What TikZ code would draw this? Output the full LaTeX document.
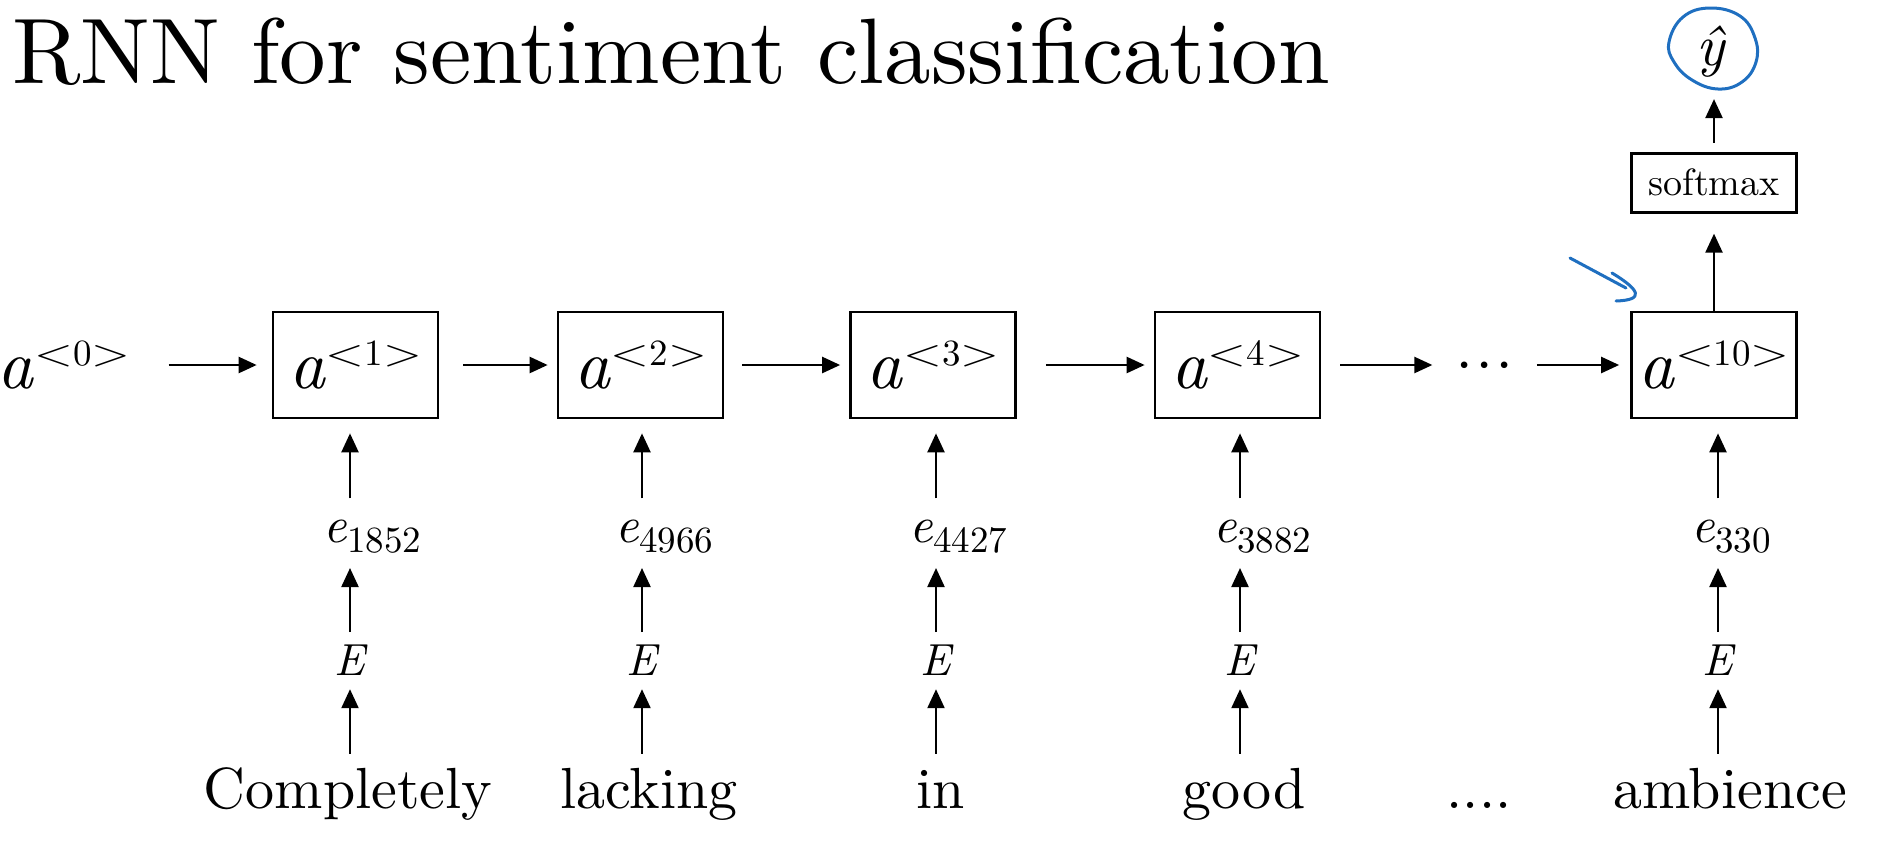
\documentclass[tikz,border=0pt]{standalone}
\usepackage{fontspec}
\setmainfont{lmroman10-regular.otf}[ItalicFont=lmroman10-italic.otf]
\usepackage{graphicx}
\usetikzlibrary{arrows.meta,positioning}
\definecolor{penblue}{HTML}{1F6FC0}
\newcommand{\wlt}{\scalebox{1.35}[1]{<}}
\newcommand{\wgt}{\scalebox{1.35}[1]{>}}
\newcommand{\act}[1]{\textit{a}\raisebox{23pt}{\fontsize{37}{40}\selectfont\wlt#1\wgt}}
\newcommand{\emb}[1]{\textit{e}\raisebox{-10pt}{\fontsize{37}{40}\selectfont#1}}
\newcommand{\dt}{\makebox[20pt]{\textperiodcentered}}

\begin{document}
\begin{tikzpicture}[x=1pt, y=-1pt,
    cell/.style={draw, line width=2.7pt, minimum width=165pt, minimum height=106pt, inner sep=0pt, font=\fontsize{70}{80}\selectfont},
    lbl/.style={inner sep=0pt},
    emblbl/.style={inner sep=0pt, anchor=base west, font=\fontsize{51}{56}\selectfont},
    mat/.style={inner sep=0pt, anchor=base, font=\fontsize{45}{50}\selectfont\itshape},
    word/.style={inner sep=0pt, anchor=base, text height=41pt, font=\fontsize{58}{64}\selectfont},
    recur/.style={-{Triangle[length=18pt,width=16pt]}, line width=2.4pt, shorten <=24pt, shorten >=9pt},
    feed/.style={-{Triangle[length=19pt,width=17pt]}, line width=2.3pt, shorten <=13pt, shorten >=14pt},
    pen/.style={draw=penblue, line width=3pt, line cap=round, line join=round}
]
    \useasboundingbox (0,0) rectangle (1885,847);
    \node[lbl, anchor=base west, font=\fontsize{93}{100}\selectfont] (title) at (12,83) {RNN for sentiment classification};

    \node[cell] (a1) at (355.5,365) {\makebox[0pt]{\act{1}}};
    \node[cell] (a2) at (640.5,365) {\makebox[0pt]{\act{2}}};
    \node[cell] (a3) at (933,365) {\makebox[0pt]{\act{3}}};
    \node[cell] (a4) at (1237.5,365) {\makebox[0pt]{\act{4}}};
    \node[cell] (a10) at (1714,365) {\makebox[0pt]{\act{10}}};
    \node[lbl, left=141pt of a1, font=\fontsize{70}{80}\selectfont] (a0) {\act{0}};
    \node[lbl, right=133pt of a4, text height=43pt, text depth=0pt, font=\fontsize{62}{70}\selectfont] (dots) {\dt\dt\dt};

    \node[cell, minimum height=59pt, font=\fontsize{38}{40}\selectfont, above=97pt of a10] (soft) {softmax};
    \node[lbl, anchor=base, font=\fontsize{58}{64}\selectfont] (yhat) at (1712,65) {\textit{\^{y}}};

    \node[emblbl] (e1) at (323,542) {\emb{1852}};
    \node[emblbl] (e2) at (615,542) {\emb{4966}};
    \node[emblbl] (e3) at (909,542) {\emb{4427}};
    \node[emblbl] (e4) at (1213,542) {\emb{3882}};
    \node[emblbl] (e10) at (1691,542) {\emb{330}};

    \node[mat] (E1) at (350,675) {E};
    \node[mat] (E2) at (642,675) {E};
    \node[mat] (E3) at (936,675) {E};
    \node[mat] (E4) at (1240,675) {E};
    \node[mat] (E10) at (1718,675) {E};

    \node[word] (w1) at (348,808) {Completely};
    \node[word] (w2) at (649,808) {lacking};
    \node[word] (w3) at (941,808) {in};
    \node[word] (w4) at (1244,808) {good};
    \node[word] (wdots) at (1479,808) {....};
    \node[word] (w10) at (1730,808) {ambience};

    \draw[recur, shorten <=38pt, shorten >=15pt] (a0) -- (a1);
    \draw[recur] (a1) -- (a2);
    \draw[recur, shorten <=18pt] (a2) -- (a3);
    \draw[recur, shorten <=29pt] (a3) -- (a4);
    \draw[recur, shorten <=19pt, shorten >=22pt] (a4) -- (dots);
    \draw[recur, shorten <=22pt, shorten >=11pt] (dots) -- (a10);

    \draw[feed] (w1.north -| E1) -- (E1);
    \draw[feed] (w2.north -| E2) -- (E2);
    \draw[feed] (w3.north -| E3) -- (E3);
    \draw[feed] (w4.north -| E4) -- (E4);
    \draw[feed] (w10.north -| E10) -- (E10);
    \draw[feed, shorten <=12pt, shorten >=15pt] (E1) -- (E1 |- e1.south);
    \draw[feed, shorten <=12pt, shorten >=15pt] (E2) -- (E2 |- e2.south);
    \draw[feed, shorten <=12pt, shorten >=15pt] (E3) -- (E3 |- e3.south);
    \draw[feed, shorten <=12pt, shorten >=15pt] (E4) -- (E4 |- e4.south);
    \draw[feed, shorten <=12pt, shorten >=15pt] (E10) -- (E10 |- e10.south);
    \draw[feed, shorten <=21pt] (E1 |- e1.north) -- (E1 |- a1.south);
    \draw[feed, shorten <=21pt] (E2 |- e2.north) -- (E2 |- a2.south);
    \draw[feed, shorten <=21pt] (E3 |- e3.north) -- (E3 |- a3.south);
    \draw[feed, shorten <=21pt] (E4 |- e4.north) -- (E4 |- a4.south);
    \draw[feed, shorten <=21pt] (E10 |- e10.north) -- (E10 |- a10.south);

    \draw[feed, shorten <=0pt, shorten >=20pt] (a10) -- (soft);
    \draw[feed, shorten <=9pt, shorten >=22pt] (soft) -- (soft |- yhat.south);

    \draw[pen] plot[smooth cycle, tension=0.7] coordinates {(1669,42) (1683,17) (1710,8) (1740,16) (1755,38) (1756,62) (1742,82) (1718,89) (1692,80) (1674,62)};
    \draw[pen] (1570,258) -- (1626,288);
    \draw[pen] (1612,273) .. controls (1640,290) and (1645,300) .. (1616,301);
\end{tikzpicture}
\end{document}
